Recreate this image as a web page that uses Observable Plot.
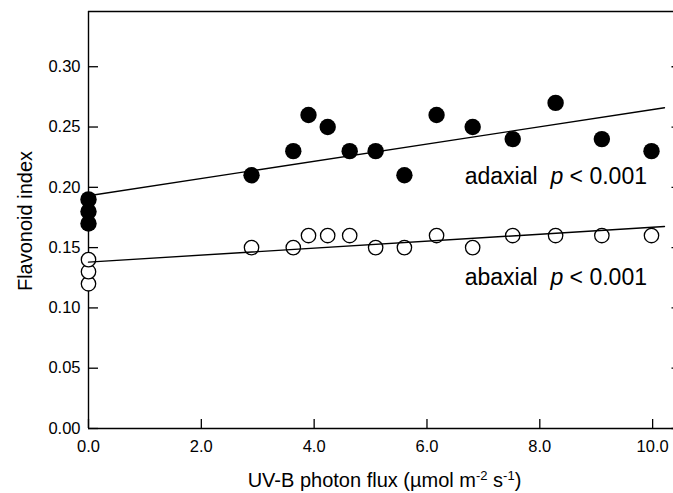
<!DOCTYPE html>
<html>
<head>
<meta charset="utf-8">
<script src="https://cdn.jsdelivr.net/npm/d3@7"></script>
<script src="https://cdn.jsdelivr.net/npm/@observablehq/plot@0.6"></script>
<style>
  html, body { margin: 0; padding: 0; background: #fff; }
  svg { font-family: "Liberation Sans", Arial, sans-serif; }
</style>
</head>
<body>
<div id="chart"></div>
<script>
// UV-B photon flux (x) for each measured point
const uvb = [0, 0, 0, 2.89, 3.63, 3.9, 4.24, 4.63, 5.09, 5.6, 6.17, 6.81, 7.52, 8.28, 9.1, 9.98];
// Flavonoid index, adaxial (filled circles)
const adaxial = [0.17, 0.18, 0.19, 0.21, 0.23, 0.26, 0.25, 0.23, 0.23, 0.21, 0.26, 0.25, 0.24, 0.27, 0.24, 0.23];
// Flavonoid index, abaxial (open circles)
const abaxial = [0.12, 0.13, 0.14, 0.15, 0.15, 0.16, 0.16, 0.16, 0.15, 0.15, 0.16, 0.15, 0.16, 0.16, 0.16, 0.16];

// Regression lines (end points)
const fitX = [0, 10.21];
const adaxialFit = [0.193, 0.266];
const abaxialFit = [0.138, 0.1675];

// Annotations
const labelNames = ["adaxial", "abaxial"];
const labelX = [9.9, 9.9];
const labelY = [0.209, 0.125];
const pText = "p < 0.001";

// Axes
const xTicks = [0, 2, 4, 6, 8, 10];
const yTicks = [0, 0.05, 0.10, 0.15, 0.20, 0.25, 0.30];
const xDomain = [0, 10.37];
const yDomain = [0, 0.3458];
const xTitle = "UV-B photon flux (µmol m-2 s-1)";
const yTitle = "Flavonoid index";

const adaxData = uvb.map((x, i) => ({x, y: adaxial[i]}));
const abaxData = uvb.map((x, i) => ({x, y: abaxial[i]}));
const adaxFitData = fitX.map((x, i) => ({x, y: adaxialFit[i]}));
const abaxFitData = fitX.map((x, i) => ({x, y: abaxialFit[i]}));
const labelData = labelNames.map((n, i) => ({x: labelX[i], y: labelY[i], text: n + "\u00a0\u00a0" + pText}));

const W = 673, H = 493;
const chart = Plot.plot({
  width: W,
  height: H,
  marginLeft: 88,
  marginRight: 0,
  marginTop: 11,
  marginBottom: 65,
  style: {fontFamily: "Liberation Sans, Arial, sans-serif", color: "#000", background: "#fff"},
  x: {domain: xDomain},
  y: {domain: yDomain},
  marks: [
    // frame (left, bottom, top)
    Plot.ruleX([xDomain[0]], {stroke: "#000", strokeWidth: 1.4}),
    Plot.ruleY([yDomain[0]], {stroke: "#000", strokeWidth: 1.4}),
    Plot.ruleY([yDomain[1]], {stroke: "#000", strokeWidth: 1.4}),
    // inward ticks
    Plot.axisX(xTicks, {tickSize: -9, tickFormat: () => "", strokeWidth: 1.3, label: null}),
    Plot.axisY(yTicks, {tickSize: -10, tickFormat: () => "", strokeWidth: 1.3, label: null}),
    Plot.axisY(yTicks, {anchor: "right", tickSize: -2.5, tickFormat: () => "", strokeWidth: 1.3, label: null}),
    // tick labels
    Plot.axisX(xTicks, {tickSize: 0, tickPadding: 12, tickFormat: d => d.toFixed(1), fontSize: 16.5, label: null}),
    Plot.axisY(yTicks, {tickSize: 0, tickPadding: 8, tickFormat: d => d.toFixed(2), fontSize: 16.5, label: null}),
    // points
    Plot.dot(abaxData, {x: "x", y: "y", r: 7.2, fill: "#fff", stroke: "#000", strokeWidth: 1.3}),
    Plot.dot(adaxData, {x: "x", y: "y", r: 8.2, fill: "#000", stroke: "none"}),
    // regression lines
    Plot.line(adaxFitData, {x: "x", y: "y", stroke: "#000", strokeWidth: 1.4}),
    Plot.line(abaxFitData, {x: "x", y: "y", stroke: "#000", strokeWidth: 1.4}),
    // annotations
    Plot.text(labelData, {x: "x", y: "y", text: "text", textAnchor: "end", fontSize: 23, fill: "#000"})
  ]
});

const svg = d3.select(chart);
// italic p in annotations
svg.selectAll('g[aria-label="text"] text').each(function() {
  const t = d3.select(this);
  const s = t.text();
  const idx = s.indexOf(pText);
  const head = s.slice(0, idx);
  t.text(null);
  t.append("tspan").text(head);
  t.append("tspan").attr("font-style", "italic").text("p");
  t.append("tspan").text(pText.slice(1));
});

// x-axis title with superscripts
const xt = svg.append("text")
  .attr("x", 384.5).attr("y", 486.5)
  .attr("text-anchor", "middle")
  .attr("font-size", 20)
  .attr("fill", "#000");
const parts = xTitle.match(/^(.*m)(-2)( s)(-1)(\))$/);
xt.append("tspan").text(parts[1]);
xt.append("tspan").attr("baseline-shift", "super").attr("font-size", 13).text(parts[2]);
xt.append("tspan").text(parts[3]);
xt.append("tspan").attr("baseline-shift", "super").attr("font-size", 13).text(parts[4]);
xt.append("tspan").text(parts[5]);

// y-axis title
svg.append("text")
  .attr("transform", "translate(31.5,221) rotate(-90)")
  .attr("text-anchor", "middle")
  .attr("font-size", 20)
  .attr("fill", "#000")
  .text(yTitle);

document.getElementById("chart").appendChild(chart);
</script>
</body>
</html>
